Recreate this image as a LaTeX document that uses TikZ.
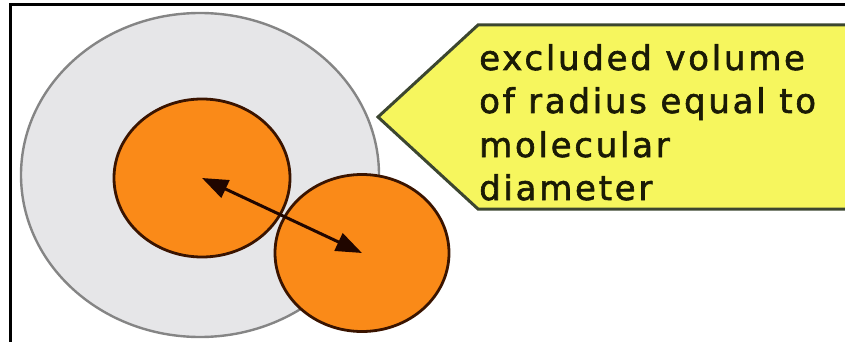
\documentclass[tikz,border=0pt]{standalone}
\usepackage{fontspec}
\usetikzlibrary{shapes.geometric,arrows.meta}
\newfontfamily\labelfont[LetterSpace=8,FakeBold=1.8]{DejaVu Sans}
\definecolor{greyfill}{HTML}{E6E6E8}
\definecolor{greyline}{HTML}{858585}
\definecolor{molfill}{HTML}{FA8A18}
\definecolor{molline}{HTML}{3A1400}
\definecolor{arrowcol}{HTML}{200600}
\definecolor{calloutfill}{HTML}{F6F65E}
\definecolor{calloutline}{HTML}{3C4630}
\definecolor{textcol}{HTML}{1A1A05}
\tikzset{
  molecule/.style={ellipse, draw=molline, fill=molfill, line width=2.8pt, inner sep=0pt},
  excluded/.style={ellipse, draw=greyline, fill=greyfill, line width=2.4pt, inner sep=0pt},
  calloutbox/.style={draw=calloutline, fill=calloutfill, line width=3pt, line join=miter},
  labeltext/.style={anchor=base west, inner sep=0pt, text=textcol, font=\labelfont\fontsize{34}{38}\selectfont},
  frameline/.style={draw=black, line width=3pt},
  diam/.style={draw=arrowcol, line width=3pt, {Triangle[length=26pt,width=19pt]}-{Triangle[length=26pt,width=19pt]}}
}
\begin{document}
\begin{tikzpicture}[x=1pt,y=-1pt]
\useasboundingbox (0,0) rectangle (845,342);
\draw[frameline] (10,350) -- (10,5) -- (850,5);
\node[excluded, minimum width=358pt, minimum height=324pt] (excl) at (200,175) {};
\node[molecule, minimum width=176pt, minimum height=158pt] (m1) at (202,178) {};
\node[molecule, minimum width=174pt, minimum height=157pt] (m2) at (362,253) {};
\draw[diam] (m1.center) -- (m2.center);
\coordinate (tip) at (378,117);
\draw[calloutbox] (tip) -- (478,25) -- (852,25) -- (852,209) -- (478,209) -- cycle;
\node[labeltext] (t1) at (479,70) {excluded volume};
\node[labeltext] (t2) at (479,113) {of radius equal to};
\node[labeltext] (t3) at (479,157) {molecular};
\node[labeltext] (t4) at (479,200) {diameter};
\end{tikzpicture}
\end{document}
